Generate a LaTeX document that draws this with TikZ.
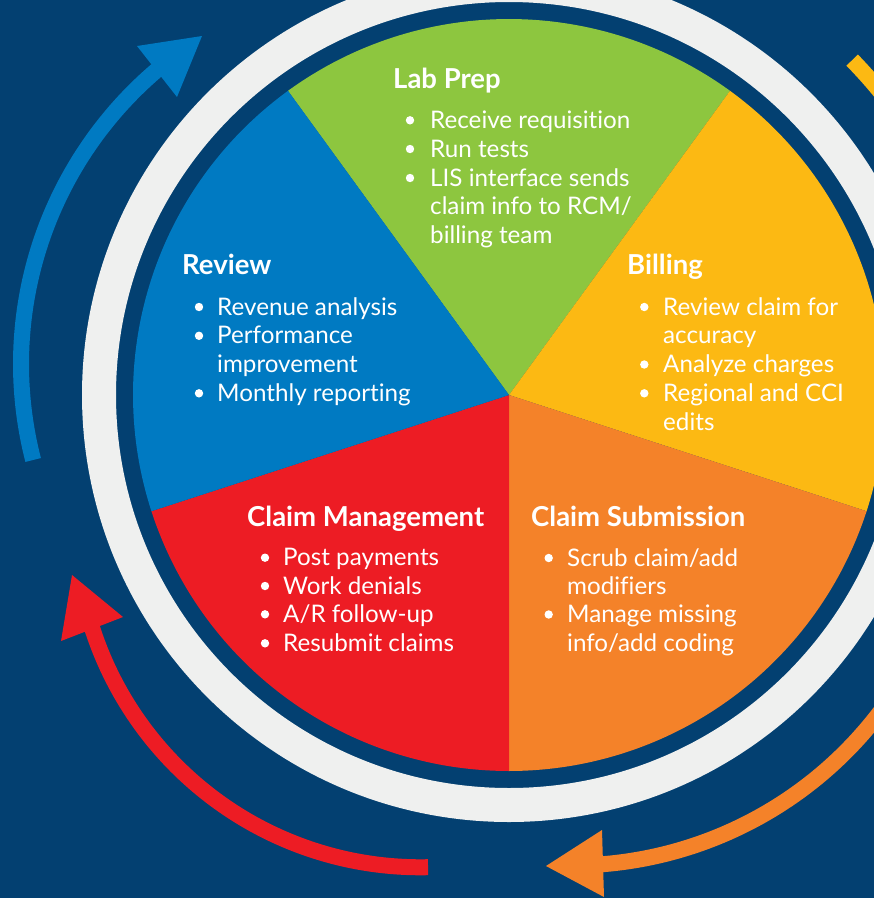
\documentclass[tikz,border=0pt]{standalone}
\usepackage{fontspec}
\setmainfont{Lato}[Ligatures=NoCommon]
\definecolor{navy}{RGB}{3,64,113}
\definecolor{cblue}{RGB}{0,122,194}
\definecolor{cgreen}{RGB}{141,198,63}
\definecolor{cyellow}{RGB}{252,185,19}
\definecolor{corange}{RGB}{244,130,41}
\definecolor{cred}{RGB}{237,28,36}
\definecolor{cring}{RGB}{239,240,239}
\newcommand{\bul}[2]{\fill[white] (#1,#2-8) circle[radius=4.2pt];}
\begin{document}
\begin{tikzpicture}[x=1pt,y=-1pt,
  head/.style={anchor=base west, inner sep=0pt, text=white, font=\fontsize{27.5}{32}\selectfont\bfseries},
  item/.style={anchor=base west, inner sep=0pt, text=white, font=\fontsize{24.2}{28}\selectfont},
  shaft/.style={line width=16pt}
]
\useasboundingbox (0,0) rectangle (874,898);
\clip (0,0) rectangle (874,898);
\fill[navy] (0,0) rectangle (874,898);
\coordinate (C) at (509,395);
% pie sectors
\fill[cgreen]  (C) -- plot[domain=-126:-54, samples=80] ({509+376*cos(\x)},{395+376*sin(\x)}) -- cycle;
\fill[cyellow] (C) -- plot[domain=-54:18, samples=80] ({509+376*cos(\x)},{395+376*sin(\x)}) -- cycle;
\fill[corange] (C) -- plot[domain=18:90, samples=80] ({509+376*cos(\x)},{395+376*sin(\x)}) -- cycle;
\fill[cred]    (C) -- plot[domain=90:162, samples=80] ({509+376*cos(\x)},{395+376*sin(\x)}) -- cycle;
\fill[cblue]   (C) -- plot[domain=162:234, samples=80] ({509+376*cos(\x)},{395+376*sin(\x)}) -- cycle;
% ring
\draw[cring, line width=34pt] (C) circle[radius=410pt];
% arrows
\draw[cblue, shaft] plot[domain=165.6:231, samples=80] ({407+386*cos(\x)},{364+386*sin(\x)});
\fill[cblue] (202,36) -- (137,46) -- (177,97) -- cycle;
\draw[cred, shaft] plot[domain=88.75:163.5, samples=80] ({420.5+345*cos(\x)},{522.3+345*sin(\x)});
\fill[cred] (72,575) -- (61,641) -- (123,617) -- cycle;
\draw[corange, shaft] plot[domain=30:87, samples=80] ({571.4+387.5*cos(\x)},{478+387.5*sin(\x)});
\fill[corange] (546,866) -- (602,830) -- (604,897) -- cycle;
\draw[cyellow, shaft] plot[domain=-44.3:-30, samples=30] ({509+479.5*cos(\x)},{395+479.5*sin(\x)});
% Lab Prep
\node[head] (lph) at (393,88) {Lab Prep};
\bul{410}{128.3}\bul{410}{157}\bul{410}{186}
\node[item] (lp1) at (430,128.3) {Receive requisition};
\node[item] (lp2) at (430,157) {Run tests};
\node[item] (lp3) at (430,186) {LIS interface sends};
\node[item] (lp4) at (430,214.5) {claim info to RCM/};
\node[item] (lp5) at (430,243.3) {billing team};
% Review
\node[head] (rvh) at (182,274) {Review};
\bul{199}{315}\bul{199}{343.8}\bul{199}{401.3}
\node[item] (rv1) at (217,315) {Revenue analysis};
\node[item] (rv2) at (217,343.8) {Performance};
\node[item] (rv3) at (217,372.5) {improvement};
\node[item] (rv4) at (217,401.3) {Monthly reporting};
% Billing
\node[head] (bih) at (627,274) {Billing};
\bul{644.3}{315}\bul{644.3}{372.5}\bul{644.3}{401.3}
\node[item] (bi1) at (663,315) {Review claim for};
\node[item] (bi2) at (663,343.8) {accuracy};
\node[item] (bi3) at (663,372.5) {Analyze charges};
\node[item] (bi4) at (663,401.3) {Regional and CCI};
\node[item] (bi5) at (663,430) {edits};
% Claim Management
\node[head] (cmh) at (247,526) {Claim Management};
\bul{265}{565.7}\bul{265}{594}\bul{265}{622.3}\bul{265}{651.3}
\node[item] (cm1) at (283,565.7) {Post payments};
\node[item] (cm2) at (283,594) {Work denials};
\node[item] (cm3) at (283,622.3) {A/R follow-up};
\node[item] (cm4) at (283,651.3) {Resubmit claims};
% Claim Submission
\node[head] (csh) at (531,526) {Claim Submission};
\bul{548.7}{566}\bul{548.7}{622.5}
\node[item] (cs1) at (567,566) {Scrub claim/add};
\node[item] (cs2) at (567,594) {modifiers};
\node[item] (cs3) at (567,622.5) {Manage missing};
\node[item] (cs4) at (567,651) {info/add coding};
\end{tikzpicture}
\end{document}
